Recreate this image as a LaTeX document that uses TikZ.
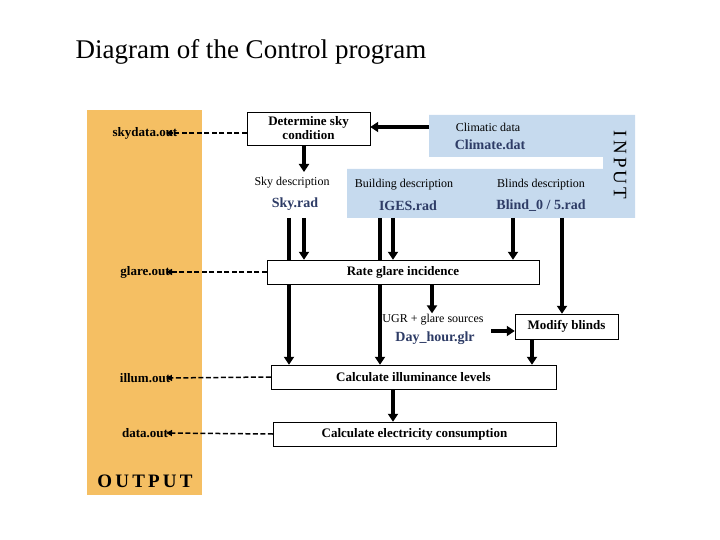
\documentclass[tikz,border=0pt]{standalone}
\usepackage{fontspec}
\setmainfont{Liberation Serif}
\usetikzlibrary{arrows.meta,backgrounds}
\definecolor{outorange}{HTML}{F5BF63}
\definecolor{inblue}{HTML}{C6DAEE}
\definecolor{fname}{HTML}{2E3C66}
\tikzset{
  box/.style={draw=black, thin, fill=white, font=\bfseries\fontsize{13}{14}\selectfont, align=center, inner sep=0pt},
  small/.style={font=\fontsize{12}{13}\selectfont, inner sep=1pt},
  fn/.style={font=\bfseries\fontsize{14}{15}\selectfont, text=fname, inner sep=1pt},
  outf/.style={font=\bfseries\fontsize{13}{14}\selectfont, inner sep=1pt},
  arrow/.style={line width=3.4pt, -{Triangle[length=8pt,width=10pt]}},
  outarrow/.style={line width=1.5pt, dash pattern=on 5pt off 2.5pt, -{Triangle[length=6pt,width=6pt]}}
}
\begin{document}
\begin{tikzpicture}[x=1pt,y=-1pt]
\useasboundingbox (0,0) rectangle (720,540);
% panels
\fill[outorange] (87,110) rectangle (202,495);
\fill[inblue] (429,115) -- (635,115) -- (635,218) -- (347,218) -- (347,169) -- (603,169) -- (603,157) -- (429,157) -- cycle;
\node[anchor=west, font=\fontsize{27}{30}\selectfont] (title) at (72,52) {Diagram of the Control program};
\node[font=\bfseries\fontsize{19}{21}\selectfont] (outp) at (145,481) {O\,U\,T\,P\,U\,T};
\node[rotate=-90, font=\fontsize{19}{21}\selectfont] (inp) at (620,165) {I\,N\,P\,U\,T};
% outputs
\node[outf] (skyout) at (145,133) {skydata.out};
\node[outf] (glout) at (145,272) {glare.out};
\node[outf] (ilout) at (145,378) {illum.out};
\node[outf] (daout) at (145,433) {data.out};
\coordinate (e1) at (166,133);
\coordinate (e2) at (166,272);
\coordinate (e3) at (166,378);
\coordinate (e4) at (166,433);
% boxes
\node[box, minimum width=123pt, minimum height=33pt] (sky) at (308.5,128.5) {Determine sky\\condition};
\node[box, minimum width=272pt, minimum height=24pt] (rate) at (403,272) {Rate glare incidence};
\node[box, minimum width=103pt, minimum height=25pt] (mod) at (566.5,326.5) {Modify blinds};
\node[box, minimum width=285pt, minimum height=24pt] (ill) at (413.5,377) {Calculate illuminance levels};
\node[box, minimum width=283pt, minimum height=24pt] (ele) at (414.5,434) {Calculate electricity consumption};
% inputs
\node[small] (clim) at (488,127) {Climatic data};
\node[fn] (climf) at (490,145) {Climate.dat};
\node[small] (skyd) at (292,183) {Sky description};
\node[fn] (skyf) at (295,204) {Sky.rad};
\node[small] (bld) at (404,185) {Building description};
\node[fn] (bldf) at (408,206) {IGES.rad};
\node[small] (bli) at (541,185) {Blinds description};
\node[fn] (blif) at (541,206) {Blind\_0 / 5.rad};
\node[small] (ugr) at (433,320) {UGR + glare sources};
\node[fn] (ugrf) at (435,338) {Day\_hour.glr};
% start points
\coordinate (s1) at (289,218);
\coordinate (s2) at (304,218);
\coordinate (b1) at (380,218);
\coordinate (b2) at (393,218);
\coordinate (l1) at (513,218);
\coordinate (l2) at (562,218);
% connectors
\begin{pgfonlayer}{background}
\draw[arrow] (s1) -- (ill.north -| s1);
\draw[arrow] (b1) -- (ill.north -| b1);
\end{pgfonlayer}
\draw[arrow] (429,127) -- (sky.east |- 0,127);
\draw[arrow] (sky.south -| 304,0) -- (304,172);
\draw[arrow] (s2) -- (rate.north -| s2);
\draw[arrow] (b2) -- (rate.north -| b2);
\draw[arrow] (l1) -- (rate.north -| l1);
\draw[arrow] (l2) -- (mod.north -| l2);
\draw[arrow] (rate.south -| 432,0) -- (ugr.north -| 432,0);
\draw[arrow] (491,331) -- (mod.west |- 0,331);
\draw[arrow] (mod.south -| 532,0) -- (ill.north -| 532,0);
\draw[arrow] (ill.south -| 393,0) -- (ele.north -| 393,0);
% dashed outputs
\draw[outarrow] (sky.west |- skyout) -- (e1);
\draw[outarrow] (rate.west) -- (e2);
\draw[outarrow] (ill.west) -- (e3);
\draw[outarrow] (ele.west) -- (e4);
\end{tikzpicture}
\end{document}
